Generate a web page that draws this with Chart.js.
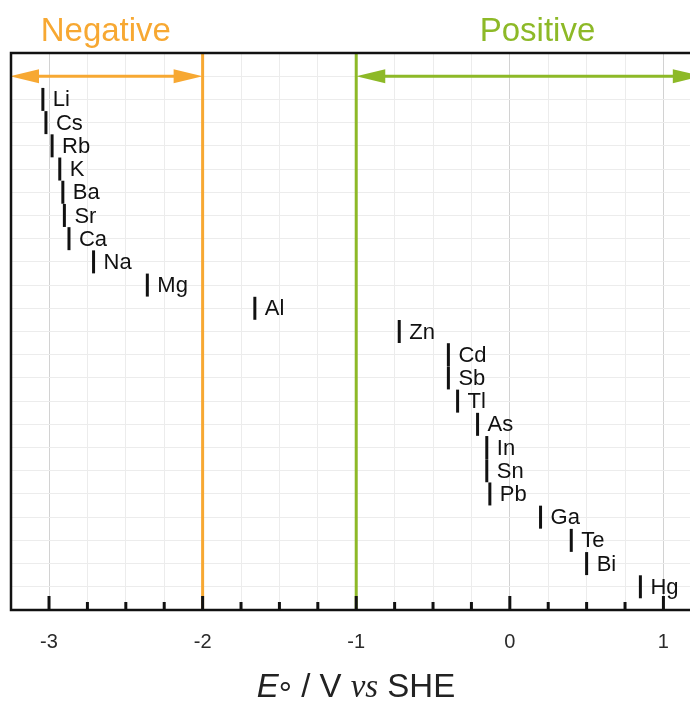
<!DOCTYPE html>
<html>
<head>
<meta charset="utf-8">
<script src="https://cdn.jsdelivr.net/npm/chart.js@4.4.1/dist/chart.umd.min.js"></script>
<style>
  html, body { margin: 0; padding: 0; background: #fff; }
</style>
</head>
<body>
<canvas id="myChart" width="690" height="702"></canvas>
<script>
// standard reduction potentials, one row per metal
const elements = ['Li', 'Cs', 'Rb', 'K', 'Ba', 'Sr', 'Ca', 'Na', 'Mg', 'Al', 'Zn',
  'Cd', 'Sb', 'Tl', 'As', 'In', 'Sn', 'Pb', 'Ga', 'Te', 'Bi', 'Hg']
const potentials = [-3.04, -3.02, -2.98, -2.93, -2.91, -2.90, -2.87, -2.71, -2.36, -1.66, -0.72,
  -0.40, -0.40, -0.34, -0.21, -0.15, -0.15, -0.13, 0.20, 0.40, 0.50, 0.85]
const rows = elements.map((_, i) => i + 1)

const xTicks = [-3, -2, -1, 0, 1]
const negativeRange = [-3.254, -2]
const positiveRange = [-1, 1.25]
const regionNames = ['Negative', 'Positive']
const regionTitleAt = [-2.63, 0.18]

const ORANGE = '#F7A832'
const GREEN = '#8DB927'
const X_MIN = -3.254
const X_MAX = 1.173

function arrow(ctx, x1, x2, y, color) {
  const head = 29, half = 7
  ctx.save()
  ctx.strokeStyle = color
  ctx.fillStyle = color
  ctx.lineWidth = 3
  ctx.beginPath()
  ctx.moveTo(x1 + head - 2, y)
  ctx.lineTo(x2 - head + 2, y)
  ctx.stroke()
  ctx.beginPath()
  ctx.moveTo(x1, y)
  ctx.lineTo(x1 + head, y - half)
  ctx.lineTo(x1 + head, y + half)
  ctx.closePath()
  ctx.fill()
  ctx.beginPath()
  ctx.moveTo(x2, y)
  ctx.lineTo(x2 - head, y - half)
  ctx.lineTo(x2 - head, y + half)
  ctx.closePath()
  ctx.fill()
  ctx.restore()
}

const decorations = {
  id: 'decorations',
  beforeDatasetsDraw(chart) {
    const { ctx, chartArea: a, scales: { x, y } } = chart
    ctx.save()
    // boundary lines
    ctx.lineWidth = 3
    ctx.strokeStyle = ORANGE
    ctx.beginPath()
    ctx.moveTo(x.getPixelForValue(negativeRange[1]), a.top)
    ctx.lineTo(x.getPixelForValue(negativeRange[1]), a.bottom)
    ctx.stroke()
    ctx.strokeStyle = GREEN
    ctx.beginPath()
    ctx.moveTo(x.getPixelForValue(positiveRange[0]), a.top)
    ctx.lineTo(x.getPixelForValue(positiveRange[0]), a.bottom)
    ctx.stroke()
    ctx.restore()

    const yArrow = y.getPixelForValue(0)
    arrow(ctx, x.getPixelForValue(negativeRange[0]), x.getPixelForValue(negativeRange[1]), yArrow, ORANGE)
    arrow(ctx, x.getPixelForValue(positiveRange[0]), x.getPixelForValue(positiveRange[1]), yArrow, GREEN)
  },
  afterDatasetsDraw(chart) {
    const { ctx, chartArea: a, scales: { x, y } } = chart
    ctx.save()

    // element labels
    ctx.font = '22px "Liberation Sans", Arial, sans-serif'
    ctx.fillStyle = '#111'
    ctx.textBaseline = 'middle'
    ctx.textAlign = 'left'
    elements.forEach((el, i) => {
      ctx.fillText(el, x.getPixelForValue(potentials[i]) + 10, y.getPixelForValue(rows[i]) + 1)
    })

    // frame (left, top, bottom)
    ctx.strokeStyle = '#111'
    ctx.lineWidth = 2.5
    ctx.beginPath()
    ctx.moveTo(a.right + 5, a.top)
    ctx.lineTo(a.left + 1, a.top)
    ctx.lineTo(a.left + 1, a.bottom)
    ctx.lineTo(a.right + 5, a.bottom)
    ctx.stroke()

    // inward tick marks
    ctx.lineWidth = 3
    x.ticks.forEach(t => {
      const major = Math.abs(t.value - Math.round(t.value)) < 1e-6
      const px = x.getPixelForValue(t.value)
      if (px < a.left + 3) return
      ctx.beginPath()
      ctx.moveTo(px, a.bottom)
      ctx.lineTo(px, a.bottom - (major ? 14 : 8))
      ctx.stroke()
    })

    // region titles
    ctx.font = '33px "Liberation Sans", Arial, sans-serif'
    ctx.textAlign = 'center'
    ctx.textBaseline = 'alphabetic'
    ctx.fillStyle = ORANGE
    ctx.fillText(regionNames[0], x.getPixelForValue(regionTitleAt[0]), 41)
    ctx.fillStyle = GREEN
    ctx.fillText(regionNames[1], x.getPixelForValue(regionTitleAt[1]), 41)

    // axis title: E° / V vs SHE
    const sans = '33px "Liberation Sans", Arial, sans-serif'
    const parts = [
      { t: 'E', f: 'italic ' + sans, dy: 0 },
      { t: '\u00B0', f: sans, dy: 8 },
      { t: ' / V ', f: sans, dy: 0 },
      { t: 'vs', f: 'italic 33px "Liberation Serif", "Times New Roman", serif', dy: 0 },
      { t: ' SHE', f: sans, dy: 0 }
    ]
    let total = 0
    parts.forEach(p => { ctx.font = p.f; p.w = ctx.measureText(p.t).width; total += p.w })
    let cx = 356 - total / 2
    ctx.textAlign = 'left'
    ctx.fillStyle = '#222'
    parts.forEach(p => {
      ctx.font = p.f
      ctx.fillText(p.t, cx, 697 + p.dy)
      cx += p.w
    })
    ctx.restore()
  }
}

const el = document.getElementById('myChart')

const data = {
  datasets: [{
    label: 'E°',
    data: elements.map((e, i) => ({ x: potentials[i], y: rows[i] })),
    pointStyle: 'line',
    rotation: 90,
    radius: 11.5,
    hoverRadius: 11.5,
    borderWidth: 3,
    borderColor: '#111',
    backgroundColor: '#111',
    showLine: false
  }]
}

const config = {
  type: 'scatter',
  data: data,
  options: {
    responsive: false,
    animation: false,
    devicePixelRatio: 1,
    events: [],
    layout: { autoPadding: false, padding: { left: 10, top: 53, right: 0, bottom: 0 } },
    plugins: {
      legend: { display: false },
      tooltip: { enabled: false }
    },
    scales: {
      x: {
        type: 'linear',
        min: X_MIN,
        max: X_MAX,
        border: { display: false },
        grid: {
          drawTicks: true,
          tickLength: 20,
          tickColor: 'rgba(0,0,0,0)',
          lineWidth: 1,
          color: ctx => xTicks.includes(Math.round(ctx.tick.value * 1000) / 1000) ? '#d2d2d2' : '#ececec'
        },
        ticks: {
          stepSize: 0.25,
          includeBounds: false,
          autoSkip: false,
          maxRotation: 0,
          padding: 0,
          color: '#2a2a2a',
          font: { family: '"Liberation Sans", Arial, sans-serif', size: 20 },
          callback: v => {
            const r = Math.round(v * 1000) / 1000
            return xTicks.includes(r) ? String(r) : ''
          }
        },
        afterFit: scale => { scale.height = 92 }
      },
      y: {
        type: 'linear',
        min: -1,
        max: 23,
        reverse: true,
        border: { display: false },
        grid: { drawTicks: false, color: '#ececec', lineWidth: 1 },
        ticks: { display: false, stepSize: 1 },
        afterFit: scale => { scale.width = 0 }
      }
    }
  },
  plugins: [decorations]
}

new Chart(el, config)
</script>
</body>
</html>
